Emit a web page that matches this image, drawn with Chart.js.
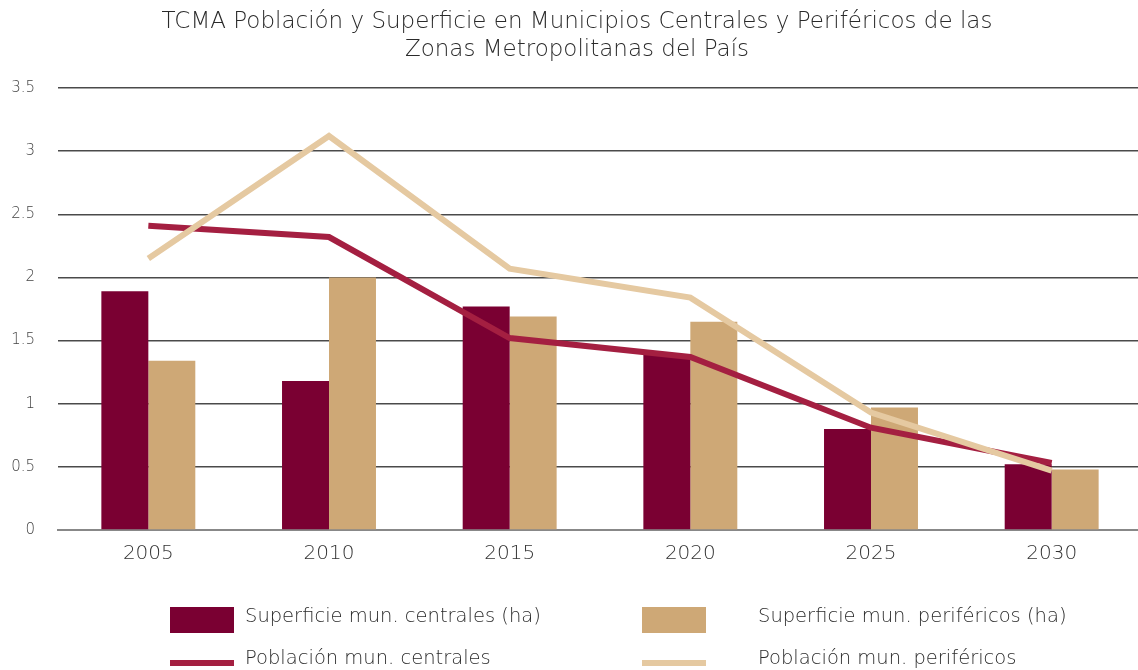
<!DOCTYPE html>
<html>
<head>
<meta charset="utf-8">
<script src="https://cdn.jsdelivr.net/npm/chart.js@4/dist/chart.umd.min.js"></script>
<style>
  html, body { margin: 0; padding: 0; background: #fff; overflow: hidden; }
  #wrap { width: 1142px; height: 670px; position: relative; }
</style>
</head>
<body>
<div id="wrap"><canvas id="c" width="1142" height="670"></canvas></div>
<script>
const titleLines = ['TCMA Población y Superficie en Municipios Centrales y Periféricos de las', 'Zonas Metropolitanas del País'];
const categories = ['2005', '2010', '2015', '2020', '2025', '2030'];
const supCentrales = [1.89, 1.18, 1.77, 1.39, 0.80, 0.52];
const supPerifericos = [1.34, 2.00, 1.69, 1.65, 0.97, 0.48];
const pobCentrales = [2.41, 2.32, 1.52, 1.37, 0.81, 0.53];
const pobPerifericos = [2.15, 3.12, 2.07, 1.84, 0.93, 0.47];
const seriesLabels = ['Superficie mun. centrales (ha)', 'Superficie mun. periféricos (ha)', 'Población mun. centrales', 'Población mun. periféricos'];
const yMin = 0, yMax = 3.5, yStep = 0.5;

const FONT = '"DejaVu Sans", sans-serif';

const customDecor = {
  id: 'customDecor',
  afterDraw(chart) {
    const ctx = chart.ctx;
    ctx.save();
    // title
    ctx.fillStyle = '#2a2a2a';
    ctx.font = '200 23px ' + FONT;
    ctx.textAlign = 'center';
    ctx.textBaseline = 'middle';
    ctx.fillText(titleLines[0], 577, 22);
    ctx.fillText(titleLines[1], 577, 50);
    // legend
    const ds = chart.data.datasets;
    const pos = [
      {x: 170, tx: 245, y: 620, ty: 617},
      {x: 642, tx: 758, y: 620, ty: 617},
      {x: 170, tx: 245, y: 663, ty: 659},
      {x: 642, tx: 758, y: 663, ty: 659}
    ];
    ctx.textAlign = 'left';
    ctx.font = '200 19.5px ' + FONT;
    ds.forEach((d, i) => {
      const p = pos[i];
      if (d.type === 'bar') {
        ctx.fillStyle = d.backgroundColor;
        ctx.fillRect(p.x, p.y - 13, 64, 26);
      } else {
        ctx.fillStyle = d.borderColor;
        ctx.fillRect(p.x, p.y - 3, 64, 6);
      }
      ctx.fillStyle = '#2a2a2a';
      ctx.fillText(d.label, p.tx, p.ty);
    });
    ctx.restore();
  }
};

new Chart(document.getElementById('c'), {
  data: {
    labels: categories,
    datasets: [
      { type: 'bar', label: seriesLabels[0], data: supCentrales, backgroundColor: '#7A0032', order: 2,
        categoryPercentage: 0.52, barPercentage: 1.0 },
      { type: 'bar', label: seriesLabels[1], data: supPerifericos, backgroundColor: '#CEA876', order: 2,
        categoryPercentage: 0.52, barPercentage: 1.0 },
      { type: 'line', label: seriesLabels[2], data: pobCentrales, borderColor: '#A41F41', backgroundColor: '#A41F41',
        borderWidth: 6, pointRadius: 0, tension: 0, order: 1, borderCapStyle: 'butt', borderJoinStyle: 'miter' },
      { type: 'line', label: seriesLabels[3], data: pobPerifericos, borderColor: '#E5C9A1', backgroundColor: '#E5C9A1',
        borderWidth: 6, pointRadius: 0, tension: 0, order: 0, borderCapStyle: 'butt', borderJoinStyle: 'miter' }
    ]
  },
  options: {
    responsive: false,
    animation: false,
    layout: { padding: { top: 88, bottom: 100, left: 0, right: 0 } },
    plugins: { legend: { display: false }, title: { display: false }, tooltip: { enabled: false } },
    scales: {
      x: {
        grid: { display: false, drawTicks: false },
        border: { display: true, color: '#888', width: 2 },
        ticks: { color: '#333', font: { family: FONT, size: 20, weight: 200 }, padding: 12 },
        afterFit(s) { s.height = 40; }
      },
      y: {
        min: yMin, max: yMax,
        grid: { color: '#4a4a4a', lineWidth: 1.5, drawTicks: false },
        border: { display: false },
        ticks: { stepSize: yStep, color: '#444', font: { family: FONT, size: 15, weight: 200 }, padding: 23,
          callback: v => String(Math.round(v * 10) / 10) },
        afterFit(s) { s.width = 58; }
      }
    }
  },
  plugins: [customDecor]
});
</script>
</body>
</html>
